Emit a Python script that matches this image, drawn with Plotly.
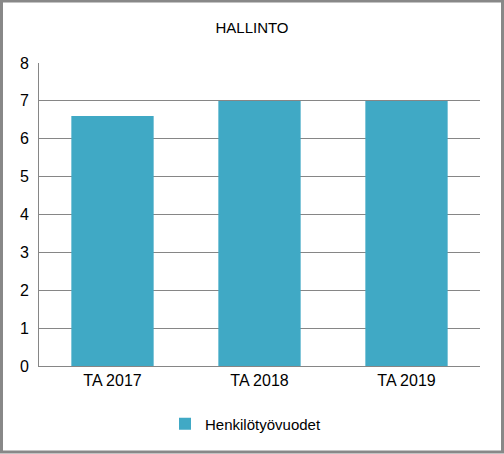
import plotly.graph_objects as go

categories = ["TA 2017", "TA 2018", "TA 2019"]
values = [6.6, 7, 7]
series_name = "Henkilötyövuodet"

W, H = 504, 454
L, R, T, B = 39, 24, 63, 88  # plot area: x 39..480, y 63..366

fig = go.Figure()
fig.add_trace(go.Bar(
    x=categories,
    y=values,
    name=series_name,
    marker=dict(color="#40A9C5", line=dict(width=0)),
    showlegend=True,
))

# outer frame of the chart (grey border around the whole image)
pw, ph = W - L - R, H - T - B
fig.add_shape(
    type="rect", xref="paper", yref="paper",
    x0=(1.5 - L) / pw, x1=(W - 1.5 - L) / pw,
    y0=-(H - 2 - T - ph) / ph, y1=1 + (T - 1) / ph,
    line=dict(color="#888888", width=3),
)

fig.update_layout(
    width=W, height=H,
    margin=dict(l=L, r=R, t=T, b=B),
    paper_bgcolor="white", plot_bgcolor="white",
    font=dict(family="Liberation Sans, Arial, sans-serif", size=14, color="#000000"),
    title=dict(text="HALLINTO", x=0.5, xanchor="center", y=1 - 28 / H, yanchor="middle",
               font=dict(size=15)),
    bargap=0.44,
    legend=dict(orientation="h", x=0.5 - 14 / pw, xanchor="center", y=-(424 - 366) / ph,
                yanchor="middle", font=dict(size=15), itemwidth=30),
)
fig.update_xaxes(showline=True, linecolor="#868686", linewidth=1, ticks="",
                 tickfont=dict(size=16))
fig.update_yaxes(range=[0, 8], dtick=1, showgrid=True, gridcolor="#868686", gridwidth=1,
                 showline=True, linecolor="#868686", linewidth=1, zeroline=False,
                 ticks="", tickfont=dict(size=16), ticklabelstandoff=6)

fig.write_html("out.html", config={"displayModeBar": False},
               post_script="document.body.style.margin='0';")
